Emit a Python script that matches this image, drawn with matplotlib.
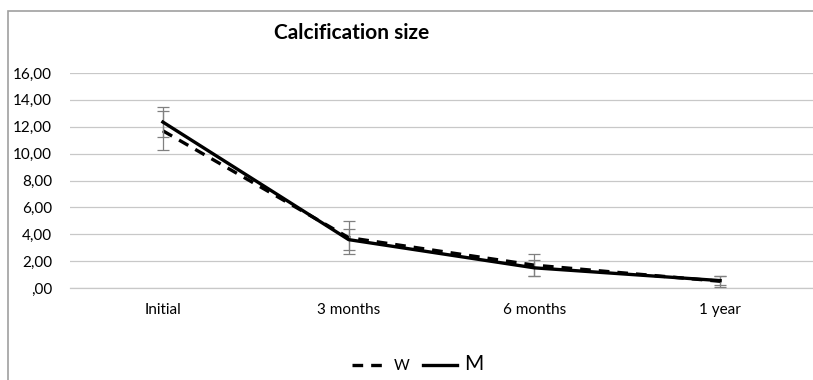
import numpy as np
import matplotlib.pyplot as plt
from matplotlib.patches import Rectangle
from matplotlib.lines import Line2D

categories = ["Initial", "3 months", "6 months", "1 year"]
w_vals = [11.7, 3.75, 1.7, 0.5]
w_err = [1.45, 1.25, 0.8, 0.4]
m_vals = [12.35, 3.6, 1.5, 0.55]
m_err = [1.1, 0.8, 0.6, 0.32]
yticks = [0, 2, 4, 6, 8, 10, 12, 14, 16]
ytick_labels = [",00", "2,00", "4,00", "6,00", "8,00", "10,00", "12,00", "14,00", "16,00"]

plt.rcParams['font.family'] = ['Lato', 'DejaVu Sans']

fig = plt.figure(figsize=(8.13, 3.80), dpi=100)
# outer chart frame (cropped on right/bottom)
fig.patches.append(Rectangle((8 / 813, -0.1), 1.2, 1 - 11 / 380 + 0.1,
                             transform=fig.transFigure, fill=False,
                             edgecolor='#a0a0a0', linewidth=1.2))

ax = fig.add_axes([70 / 813, 1 - 288 / 380, 743 / 813, 215 / 380])
x = np.arange(len(categories))

w_dash = (0, (3.2, 2.4))
ax.errorbar(x, w_vals, yerr=w_err, color='black', linestyle=w_dash,
            linewidth=2.4, ecolor='#808080', elinewidth=0.9, capsize=4, capthick=0.9,
            zorder=3)
ax.errorbar(x, m_vals, yerr=m_err, color='black', linestyle='-',
            linewidth=2.4, ecolor='#808080', elinewidth=0.9, capsize=4, capthick=0.9,
            zorder=4)

ax.set_xlim(-0.5, 3.5)
ax.set_ylim(0, 16)
ax.set_yticks(yticks)
ax.set_yticklabels(ytick_labels, fontsize=11)
ax.set_xticks(x)
ax.set_xticklabels(categories, fontsize=11)
ax.tick_params(axis='both', length=0, pad=11)
ax.tick_params(axis='y', pad=13)
ax.yaxis.grid(True, color='#c8c8c8', linewidth=0.9)
ax.set_axisbelow(True)
for s in ['top', 'right', 'left']:
    ax.spines[s].set_visible(False)
ax.spines['bottom'].set_color('#c8c8c8')
ax.spines['bottom'].set_linewidth(0.9)

fig.text(352 / 813, 1 - 33 / 380, "Calcification size", fontsize=15,
         fontweight='bold', ha='center', va='center')

handles = [Line2D([], [], color='black', linestyle=w_dash, linewidth=2.4),
           Line2D([], [], color='black', linestyle='-', linewidth=2.4)]
leg = ax.legend(handles, ['W', 'M'], loc='center', bbox_to_anchor=(418 / 813, 1 - 364 / 380),
                bbox_transform=fig.transFigure, ncol=2, frameon=False,
                handlelength=2.2, columnspacing=0.9, handletextpad=0.5, fontsize=11)
leg.get_texts()[1].set_fontsize(15)

fig.savefig("out.png", dpi=100)
